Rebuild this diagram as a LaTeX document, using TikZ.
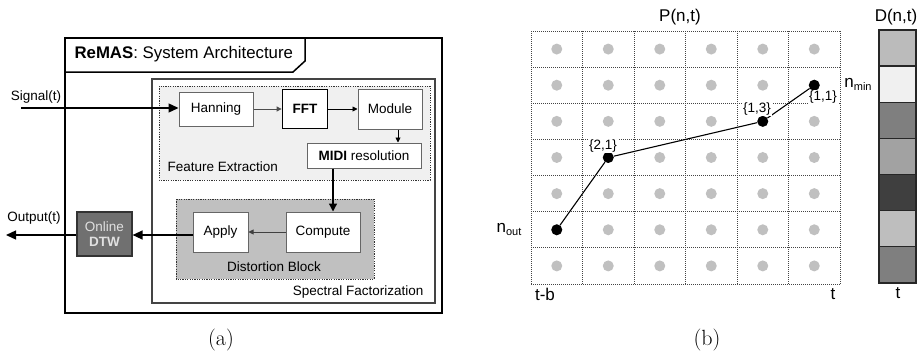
\documentclass[tikz,border=0pt]{standalone}
\usepackage{fontspec}
\setsansfont{Liberation Sans}
\usetikzlibrary{arrows.meta,calc}
\definecolor{boxedge}{HTML}{666666}
\definecolor{sfedge}{HTML}{444444}
\definecolor{fefill}{HTML}{F0F0F0}
\definecolor{dbfill}{HTML}{C0C0C0}
\definecolor{dtwfill}{HTML}{707070}
\definecolor{gridline}{HTML}{444444}
\definecolor{celldot}{HTML}{C0C0C0}
\tikzset{
  txt/.style={font=\sffamily\fontsize{13.5}{16}\selectfont},
  big/.style={font=\sffamily\fontsize{17}{20}\selectfont},
  blk/.style={txt, draw=boxedge, line width=1pt, fill=white, inner sep=0pt},
  dotbox/.style={draw=black!80, line width=0.8pt, dash pattern=on 1.2pt off 1.2pt},
  bigtip/.style={-{Triangle[length=10pt,width=9pt]}, line width=1.3pt},
  smalltip/.style={-{Triangle[length=5pt,width=5pt]}, line width=0.9pt},
  gridln/.style={draw=gridline, line width=0.7pt, dash pattern=on 1pt off 1pt},
  greydot/.style={circle, fill=celldot, inner sep=0pt, minimum size=11pt},
  pathdot/.style={circle, fill=black, inner sep=0pt, minimum size=11pt},
  steplabel/.style={font=\sffamily\fontsize{13.5}{15}\selectfont, fill=white, inner sep=0.8pt},
  caption/.style={font=\rmfamily\fontsize{22}{24}\selectfont}
}
\begin{document}
\begin{tikzpicture}[x=1pt,y=-1pt]
\useasboundingbox (0,0) rectangle (920,356);

% ---------- (a) system architecture ----------
\draw[line width=1.5pt] (65,38) rectangle (442,313);
\draw[line width=1.5pt] (65,38) -- (305,38) -- (305,61) -- (293,72) -- (65,72);
\node[anchor=west, font=\sffamily\fontsize{16.8}{20}\selectfont] (title) at (71,54) {\textbf{ReMAS}: System Architecture};

\draw[draw=sfedge, line width=1.2pt] (152,79) rectangle (435,303);
\node[txt, anchor=east] (sflabel) at (427,292) {Spectral Factorization};

\draw[dotbox, fill=fefill] (159,86) rectangle (430,180);
\node[txt, anchor=west] (felabel) at (164,167) {Feature Extraction};

\draw[dotbox, fill=dbfill] (176,199) rectangle (374,279);
\node[txt] (dblabel) at (274,267) {Distortion Block};

\node[blk, minimum width=74pt, minimum height=34pt] (hanning) at (216,109) {Hanning};
\node[blk, draw=black, line width=1.8pt, minimum width=45pt, minimum height=39pt] (fft) at (305,109) {\textbf{FFT}};
\node[blk, minimum width=64pt, minimum height=40pt] (module) at (390,109) {Module};
\node[blk, minimum width=114pt, minimum height=25pt] (midi) at (364,155.5) {\textbf{MIDI} resolution};
\node[blk, minimum width=55pt, minimum height=40pt] (apply) at (220.5,232) {Apply};
\node[blk, minimum width=74pt, minimum height=40pt] (compute) at (323,232) {Compute};
\node[txt, draw=black!80, line width=1.2pt, fill=dtwfill, text=black!12, minimum width=55pt, minimum height=44pt, inner sep=0pt, align=center] (dtw) at (104.5,234) {Online\\[-1pt]\textbf{DTW}};

\coordinate (sigin) at (21,108);
\coordinate (sigout) at (6,235);
\node[txt] (siglabel) at (36,97) {Signal(t)};
\node[txt] (outlabel) at (34,218) {Output(t)};

\draw[bigtip] (sigin) -- (hanning.west |- sigin);
\draw[smalltip, draw=black!70] (hanning) -- (fft);
\draw[smalltip] (fft) -- (module);
\draw[smalltip] ([xshift=8pt]module.south) -- ([xshift=8pt]module.south |- midi.north);
\draw[-{Triangle[length=8pt,width=8pt]}, line width=1.3pt] ([xshift=10pt]compute.north |- midi.south) -- ([xshift=10pt]compute.north);
\draw[smalltip, draw=black!75] (compute.west) -- (apply.east);
\draw[bigtip] (apply.west |- 0,235) -- (dtw.east |- 0,235);
\draw[bigtip] (dtw.west |- sigout) -- (sigout);

\node[caption] (capa) at (221,340) {(a)};

% ---------- (b) path matrix ----------
\foreach \c in {0,...,6} \draw[gridln] (531+51.5*\c,31) -- (531+51.5*\c,284);
\foreach \r in {0,...,7} \draw[gridln] (531,31+36.14*\r) -- (840,31+36.14*\r);
\foreach \c in {0,...,5} \foreach \r in {0,...,6}
  \node[greydot] (g\c\r) at (531+51.5*\c+25.75, 31+36.14*\r+18.07) {};

\node[pathdot] (p0) at (g05) {};
\node[pathdot] (p1) at (g13) {};
\node[pathdot] (p2) at (g42) {};
\node[pathdot] (p3) at (g51) {};
\draw[line width=1.1pt] (p0) -- (p1) -- (p2) -- (p3);

\node[steplabel] (l1) at (603,146) {\{2,1\}};
\node[steplabel] (l2) at (757,109) {\{1,3\}};
\node[steplabel] (l3) at (823,97) {\{1,1\}};

\node[big] (ptitle) at (680,17) {P(n,t)};
\node[big] (dtitle) at (896,17) {D(n,t)};
\node[big] (nout) at (509,229) {n\raisebox{-3pt}{\fontsize{11}{12}\selectfont out}};
\node[big] (nmin) at (858,84) {n\raisebox{-3pt}{\fontsize{11}{12}\selectfont min}};
\node[big] (tb) at (545,294) {t-b};
\node[big] (tend) at (833,294) {t};
\node[big] (tcol) at (898,293) {t};

\foreach \shade [count=\i from 0] in {BBBBBB,F0F0F0,7F7F7F,A2A2A2,3F3F3F,BEBEBE,7F7F7F} {
  \definecolor{dcell}{HTML}{\shade}
  \draw[fill=dcell, draw=black!85, line width=1.3pt] (879,30+36.14*\i) rectangle (916,30+36.14*\i+36.14);
}

\node[caption] (capb) at (707,340) {(b)};
\end{tikzpicture}
\end{document}
